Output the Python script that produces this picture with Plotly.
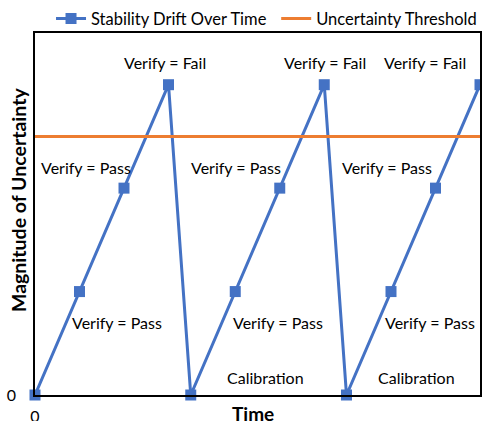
import plotly.graph_objects as go

# Data
drift_time = [0, 1, 2, 3, 3.5, 4.5, 5.5, 6.5, 7, 8, 9, 10]
drift_value = [0, 1, 2, 3, 0, 1, 2, 3, 0, 1, 2, 3]
threshold_time = [0, 10]
threshold_value = [2.5, 2.5]

label_texts = ["Verify = Fail", "Verify = Fail", "Verify = Fail",
               "Verify = Pass", "Verify = Pass", "Verify = Pass",
               "Verify = Pass", "Verify = Pass", "Verify = Pass",
               "Calibration", "Calibration"]
label_x = [2.92, 6.52, 8.76, 1.15, 4.52, 7.91, 1.84, 5.46, 8.88, 5.17, 8.58]
label_y = [3.21, 3.21, 3.21, 2.2, 2.2, 2.2, 0.70, 0.70, 0.70, 0.17, 0.17]

FONT = "Lato"
BLUE = "#4472C4"
ORANGE = "#ED7D31"

fig = go.Figure()
fig.add_trace(go.Scatter(
    x=drift_time, y=drift_value, mode="lines+markers",
    name="Stability Drift Over Time",
    line=dict(color=BLUE, width=3),
    marker=dict(symbol="square", size=11, color=BLUE),
    cliponaxis=False, legend="legend",
))
fig.add_trace(go.Scatter(
    x=threshold_time, y=threshold_value, mode="lines",
    name="Uncertainty Threshold",
    line=dict(color=ORANGE, width=3), legend="legend2",
))

annotations = []
for t, x, y in zip(label_texts, label_x, label_y):
    annotations.append(dict(x=x, y=y, xref="x", yref="y", text=t, showarrow=False,
                            font=dict(family=FONT, size=16, color="black")))
annotations.append(dict(x=0.49, y=0, xref="paper", yref="paper", yshift=-18, yanchor="middle",
                        xanchor="center", text="<b>Time</b>",
                        showarrow=False, font=dict(family=FONT, size=19, color="black")))
annotations.append(dict(x=0, y=0.5, xref="paper", yref="paper", xshift=-17, yshift=14,
                        xanchor="center", yanchor="middle",
                        text="<b>Magnitude of Uncertainty</b>", textangle=-90,
                        showarrow=False, font=dict(family=FONT, size=19.5, color="black")))

legend_common = dict(orientation="h", yanchor="middle", xanchor="left",
                     font=dict(family=FONT, size=16.5, color="black"),
                     bgcolor="rgba(0,0,0,0)", borderwidth=0)

fig.update_layout(
    width=482, height=421, autosize=False,
    margin=dict(l=35, r=2, t=33, b=26, autoexpand=False),
    paper_bgcolor="white", plot_bgcolor="white",
    font=dict(family=FONT, size=16, color="black"),
    showlegend=True,
    legend=dict(x=0.036, y=1.039, **legend_common),
    legend2=dict(x=0.542, y=1.039, **legend_common),
    annotations=annotations,
)
fig.update_xaxes(range=[0, 10], tickvals=[0], ticktext=["0"], showgrid=False, zeroline=False,
                 showline=True, linecolor="black", linewidth=1.5, mirror=True,
                 ticks="", ticklabelstandoff=6, tickfont=dict(family=FONT, size=16, color="black"))
fig.update_yaxes(range=[0, 3.5], tickvals=[0], ticktext=["0"], showgrid=False, zeroline=False,
                 showline=True, linecolor="black", linewidth=1.5, mirror=True,
                 ticks="", ticklabelstandoff=14, tickfont=dict(family=FONT, size=16, color="black"))

fig.write_html("out.html", config={"responsive": False, "displayModeBar": False},
               post_script="document.body.style.margin='0';document.body.style.overflow='hidden';")
